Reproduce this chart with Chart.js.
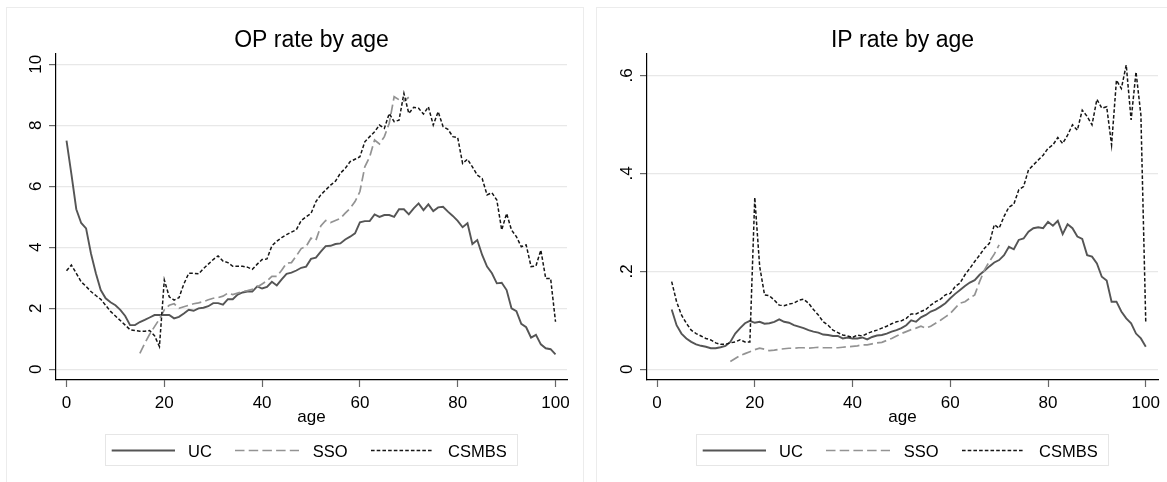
<!DOCTYPE html>
<html><head><meta charset="utf-8">
<script src="https://cdn.jsdelivr.net/npm/chart.js@4.4.1/dist/chart.umd.min.js"></script>
<style>
html,body{margin:0;padding:0;background:#fff;overflow:hidden;width:1167px;height:482px;}
.panel{position:absolute;border:1.5px solid #ececec;box-sizing:border-box;}
canvas{position:absolute;top:0;}
</style></head><body>
<div class="panel" style="left:6px;top:7px;width:578px;height:495px"></div>
<div class="panel" style="left:596px;top:7px;width:600px;height:495px"></div>
<canvas id="op" width="583" height="482" style="left:0"></canvas>
<canvas id="ip" width="576" height="482" style="left:591px"></canvas>
<script>
// ---------- data ----------
const xTicks = [0, 20, 40, 60, 80, 100];
const legendLabels = ['UC', 'SSO', 'CSMBS'];

// OP rate by age
const opTitle = 'OP rate by age';
const opYTicks = [0, 2, 4, 6, 8, 10];
const opYTickLabels = ['0', '2', '4', '6', '8', '10'];
const opUCStart = 0;
const opUC = [7.5,6.4,5.25,4.8,4.62,3.8,3.15,2.6,2.33,2.2,2.1,1.95,1.75,1.45,1.45,1.55,1.62,1.7,1.78,1.78,
  1.78,1.78,1.67,1.72,1.83,1.95,1.92,2.0,2.02,2.07,2.17,2.17,2.12,2.3,2.3,2.45,2.52,2.55,2.55,2.72,
  2.65,2.7,2.87,2.75,2.95,3.13,3.17,3.24,3.33,3.37,3.62,3.66,3.86,4.04,4.05,4.11,4.13,4.26,4.35,4.46,
  4.82,4.86,4.86,5.08,5.0,5.06,5.06,5.0,5.25,5.25,5.08,5.28,5.44,5.22,5.41,5.19,5.31,5.33,5.17,5.03,
  4.87,4.66,4.79,4.11,4.24,3.75,3.37,3.15,2.82,2.84,2.6,2.0,1.91,1.49,1.38,1.04,1.13,0.82,0.69,0.66,0.49];
const opSSOStart = 15;
const opSSO = [0.52,0.85,1.15,1.4,1.65,1.95,2.1,2.15,2.0,2.05,2.1,2.15,2.18,2.22,2.28,2.33,2.35,2.4,2.5,2.45,
  2.5,2.55,2.58,2.62,2.7,2.8,2.9,3.05,3.05,3.25,3.48,3.5,3.72,3.96,4.03,4.3,4.23,4.7,4.88,4.81,
  4.88,4.95,5.12,5.28,5.5,5.83,6.64,6.97,7.52,7.39,7.63,8.07,8.94,8.84,8.8,8.92];
const opCSMBSStart = 0;
const opCSMBS = [3.23,3.42,3.15,2.87,2.72,2.55,2.42,2.3,2.1,1.9,1.75,1.6,1.45,1.3,1.27,1.25,1.25,1.27,1.1,0.75,
  2.93,2.38,2.27,2.35,2.8,3.15,3.15,3.13,3.3,3.45,3.6,3.72,3.55,3.5,3.38,3.38,3.38,3.35,3.28,3.45,
  3.6,3.62,4.05,4.2,4.32,4.42,4.5,4.58,4.88,5.0,5.11,5.5,5.72,5.88,6.04,6.17,6.43,6.59,6.81,6.89,
  6.97,7.46,7.63,7.79,8.01,7.9,8.39,8.12,8.17,9.05,8.39,8.59,8.56,8.37,8.61,8.01,8.45,7.96,7.87,7.63,
  7.6,6.75,6.89,6.64,6.37,6.26,5.72,5.79,5.55,4.57,5.11,4.57,4.35,4.02,4.08,3.37,3.39,3.91,2.98,2.98,1.56];

// IP rate by age
const ipTitle = 'IP rate by age';
const ipYTicks = [0, 0.2, 0.4, 0.6];
const ipYTickLabels = ['0', '.2', '.4', '.6'];
const ipUCStart = 3;
const ipUC = [0.122,0.09,0.073,0.063,0.056,0.051,0.048,0.046,0.043,0.043,0.045,0.048,0.056,0.073,0.084,0.094,0.099,
  0.095,0.097,0.093,0.094,0.097,0.102,0.097,0.095,0.09,0.087,0.084,0.08,0.077,0.075,0.071,0.07,0.068,0.068,0.063,0.065,
  0.063,0.063,0.065,0.061,0.066,0.069,0.07,0.073,0.077,0.08,0.084,0.09,0.1,0.097,0.106,0.111,0.118,0.122,0.128,0.135,
  0.145,0.154,0.162,0.17,0.177,0.182,0.193,0.201,0.21,0.218,0.223,0.233,0.25,0.245,0.264,0.267,0.281,0.288,0.29,0.288,
  0.301,0.293,0.303,0.276,0.296,0.288,0.271,0.266,0.233,0.23,0.216,0.189,0.181,0.138,0.138,0.118,0.104,0.094,0.073,0.063,0.046];
const ipSSOStart = 15;
const ipSSO = [0.016,0.022,0.028,0.032,0.036,0.04,0.043,0.041,0.038,0.039,0.041,0.042,0.043,0.043,0.044,0.044,0.043,0.044,
  0.045,0.044,0.044,0.044,0.044,0.045,0.046,0.047,0.048,0.05,0.05,0.052,0.054,0.055,0.059,0.063,0.068,0.073,0.077,0.081,
  0.084,0.088,0.084,0.088,0.094,0.1,0.107,0.114,0.125,0.135,0.138,0.145,0.152,0.179,0.203,0.22,0.235,0.254];
const ipCSMBSStart = 3;
const ipCSMBS = [0.179,0.138,0.111,0.094,0.08,0.073,0.068,0.063,0.06,0.054,0.051,0.051,0.054,0.056,0.06,0.056,0.056,
  0.351,0.21,0.152,0.15,0.141,0.131,0.13,0.133,0.135,0.141,0.143,0.135,0.122,0.111,0.097,0.09,0.08,0.075,0.07,0.068,
  0.065,0.07,0.068,0.073,0.077,0.08,0.084,0.088,0.093,0.097,0.099,0.104,0.113,0.113,0.118,0.122,0.131,0.138,0.143,0.152,
  0.155,0.169,0.176,0.193,0.206,0.22,0.233,0.247,0.257,0.295,0.288,0.312,0.331,0.337,0.366,0.373,0.407,0.417,0.427,0.437,
  0.451,0.458,0.473,0.461,0.478,0.499,0.488,0.529,0.516,0.499,0.551,0.533,0.536,0.458,0.59,0.573,0.621,0.509,0.607,0.519,0.094];

// ---------- styles ----------
const FONT = '"Liberation Sans", Arial, Helvetica, sans-serif';
const styles = [
  {color: '#555555', width: 1.9, dash: []},
  {color: '#939393', width: 1.7, dash: [9.5, 4.2]},
  {color: '#161616', width: 1.5, dash: [3.6, 2.1]}
];

function pts(start, vals) { return vals.map((v, i) => ({x: start + i, y: v})); }

const decor = {
  id: 'decor',
  afterDraw(chart, args, o) {
    const {ctx, chartArea: a} = chart;
    const y = chart.scales.y;
    const cx = (a.left + a.right) / 2;
    ctx.save();
    ctx.fillStyle = '#000';
    ctx.font = '23px ' + FONT;
    ctx.textAlign = 'center';
    ctx.textBaseline = 'alphabetic';
    ctx.fillText(o.title, cx, 46.5);
    ctx.font = '17px ' + FONT;
    ctx.textBaseline = 'middle';
    o.yTicks.forEach((v, i) => {
      const py = y.getPixelForValue(v);
      ctx.save();
      ctx.translate(a.left - 20, py);
      ctx.rotate(-Math.PI / 2);
      ctx.fillText(o.yLabels[i], 0, 0);
      ctx.restore();
    });
    // legend
    ctx.strokeStyle = '#e6e6e6';
    ctx.lineWidth = 1;
    ctx.strokeRect(cx - 206, 434.5, 412, 31);
    const items = [[-199.8, -136.5, -123.5], [-76.5, -12.5, 1.2], [59.5, 121.5, 136.5]];
    ctx.font = '16.5px ' + FONT;
    ctx.textAlign = 'left';
    ctx.textBaseline = 'alphabetic';
    items.forEach((it, i) => {
      const s = styles[i];
      ctx.beginPath();
      ctx.setLineDash(s.dash);
      ctx.strokeStyle = s.color;
      ctx.lineWidth = s.width;
      ctx.moveTo(cx + it[0], 450.5);
      ctx.lineTo(cx + it[1], 450.5);
      ctx.stroke();
      ctx.setLineDash([]);
      ctx.fillStyle = '#000';
      ctx.fillText(legendLabels[i], cx + it[2], 456.7);
    });
    ctx.restore();
  }
};

function makeChart(id, W, title, xMin, xMax, yMin, yMax, yTicks, yLabels, series) {
  const datasets = series.map((s, i) => ({
    label: legendLabels[i],
    data: pts(s[0], s[1]),
    borderColor: styles[i].color,
    borderWidth: styles[i].width,
    borderDash: styles[i].dash,
    pointRadius: 0,
    tension: 0,
    fill: false,
    order: 2 - i
  }));
  new Chart(document.getElementById(id), {
    type: 'line',
    data: {datasets},
    plugins: [decor],
    options: {
      responsive: false,
      animation: false,
      layout: {padding: {top: 54, left: 0, right: W - 567, bottom: 52}},
      plugins: {
        legend: {display: false},
        tooltip: {enabled: false},
        decor: {title, yTicks, yLabels}
      },
      scales: {
        x: {
          type: 'linear', min: xMin, max: xMax,
          afterBuildTicks: s => { s.ticks = xTicks.map(v => ({value: v})); },
          afterFit: s => { s.height = 50; },
          grid: {drawOnChartArea: false, drawTicks: true, tickLength: 7, tickColor: '#666', tickWidth: 1.2},
          border: {color: '#000', width: 1.2},
          ticks: {font: {size: 17, family: FONT}, color: '#000', padding: 6, maxRotation: 0, autoSkip: false},
          title: {display: true, text: 'age', font: {size: 17, family: FONT}, color: '#000', padding: {top: 0, bottom: 2}}
        },
        y: {
          type: 'linear', min: yMin, max: yMax,
          afterBuildTicks: s => { s.ticks = yTicks.map(v => ({value: v})); },
          afterFit: s => { s.width = 56; },
          grid: {color: '#e8e8e8', lineWidth: 1.2, drawTicks: true, tickLength: 7, tickColor: '#666', tickWidth: 1.2},
          border: {color: '#000', width: 1.2},
          ticks: {display: false}
        }
      }
    }
  });
}

makeChart('op', 583, opTitle, -2.15, 102.35, -0.35, 10.34, opYTicks, opYTickLabels,
  [[opUCStart, opUC], [opSSOStart, opSSO], [opCSMBSStart, opCSMBS]]);
makeChart('ip', 576, ipTitle, -2.05, 102.5, -0.0218, 0.6435, ipYTicks, ipYTickLabels,
  [[ipUCStart, ipUC], [ipSSOStart, ipSSO], [ipCSMBSStart, ipCSMBS]]);
</script>
</body></html>
